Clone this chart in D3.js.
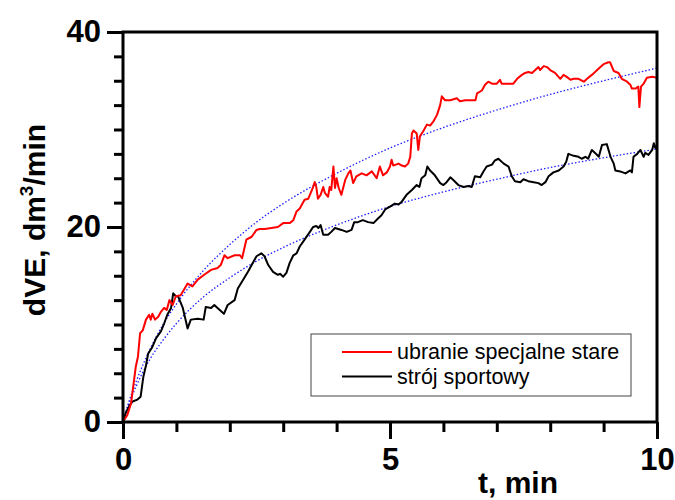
<!DOCTYPE html>
<html>
<head>
<meta charset="utf-8">
<script src="https://cdn.jsdelivr.net/npm/d3@7"></script>
<style>
  html, body { margin: 0; padding: 0; background: #fff; }
  svg { display: block; font-family: "Liberation Sans", Arial, sans-serif; }
</style>
</head>
<body>
<svg id="chart" width="675" height="500"></svg>
<script>
// Time axis (min) and ventilation readings (dm3/min) for each outfit
const oldSuitT = [0,0.02,0.08,0.15,0.2,0.24,0.28,0.32,0.37,0.43,0.49,0.52,0.55,0.6,0.66,0.71,0.77,0.82,0.87,0.93,0.99,1.08,1.21,1.3,1.4,1.52,1.65,1.77,1.83,1.9,1.96,2.09,2.19,2.23,2.31,2.41,2.5,2.56,2.65,2.78,2.9,3.0,3.12,3.19,3.25,3.31,3.4,3.47,3.5,3.56,3.59,3.62,3.65,3.7,3.75,3.78,3.84,3.87,3.9,3.94,3.97,4.0,4.04,4.09,4.16,4.22,4.26,4.31,4.37,4.47,4.56,4.66,4.75,4.81,4.87,4.94,5.0,5.03,5.06,5.16,5.22,5.28,5.34,5.38,5.41,5.44,5.5,5.53,5.56,5.62,5.69,5.75,5.81,5.88,5.94,5.97,6.03,6.13,6.25,6.31,6.41,6.53,6.6,6.63,6.72,6.78,6.84,6.91,7.0,7.06,7.09,7.22,7.31,7.38,7.47,7.53,7.59,7.66,7.72,7.78,7.81,7.88,7.94,8.0,8.09,8.19,8.25,8.31,8.38,8.44,8.53,8.63,8.69,8.78,8.88,8.94,9.0,9.09,9.12,9.19,9.28,9.34,9.44,9.5,9.53,9.6,9.65,9.67,9.7,9.75,9.81,9.91,10.0];
const oldSuitV = [0,0.2,0.7,1.9,4.0,5.7,6.7,9.1,9.4,10.5,11.0,10.5,11.1,10.5,10.8,11.3,11.7,11.5,12.5,12.0,12.9,13.0,14.2,13.9,14.6,15.1,15.6,15.8,16.1,17.1,16.8,17.1,17.1,16.8,18.7,19.0,19.7,19.8,19.8,19.9,20.0,20.4,20.4,20.7,21.6,21.9,22.8,22.9,23.3,24.1,24.6,24.1,22.9,23.3,24.1,23.5,23.1,24.1,23.8,26.2,24.0,25.0,24.0,23.3,24.8,25.5,25.8,24.5,25.2,25.5,25.3,25.7,25.0,26.2,25.3,25.6,26.2,26.9,26.3,26.5,26.3,26.2,26.5,27.2,29.6,29.9,29.6,27.9,29.3,29.8,30.5,30.4,30.8,31.5,32.5,33.4,33.0,33.0,33.2,32.9,33.0,33.0,33.0,33.7,34.0,34.6,34.9,34.7,34.7,35.1,34.7,34.7,34.7,35.2,35.6,35.8,35.9,35.8,36.1,36.4,36.1,36.5,36.4,36.1,35.8,35.2,35.6,35.4,35.1,35.2,35.2,34.9,35.2,35.6,36.1,36.4,36.7,36.9,36.9,36.0,35.8,35.2,34.9,34.6,34.2,34.2,34.4,32.3,34.4,34.7,35.3,35.4,35.3];

const sportT = [0,0.05,0.12,0.18,0.27,0.33,0.38,0.43,0.47,0.55,0.62,0.71,0.77,0.83,0.9,0.94,0.99,1.03,1.12,1.21,1.27,1.4,1.51,1.55,1.65,1.71,1.77,1.89,1.96,2.09,2.15,2.25,2.34,2.44,2.5,2.59,2.65,2.72,2.81,2.9,2.94,3.0,3.06,3.12,3.19,3.25,3.31,3.4,3.5,3.56,3.62,3.66,3.7,3.75,3.84,3.9,3.97,4.09,4.19,4.28,4.33,4.4,4.49,4.59,4.69,4.78,4.84,4.91,5.0,5.09,5.16,5.22,5.31,5.41,5.5,5.55,5.59,5.66,5.7,5.75,5.84,5.94,6.0,6.06,6.13,6.19,6.28,6.38,6.47,6.53,6.59,6.69,6.75,6.81,6.91,6.96,7.03,7.13,7.22,7.28,7.34,7.44,7.5,7.59,7.69,7.78,7.84,7.91,7.97,8.06,8.16,8.25,8.3,8.34,8.44,8.53,8.59,8.66,8.71,8.78,8.84,8.91,8.97,9.06,9.13,9.19,9.22,9.31,9.41,9.5,9.53,9.56,9.63,9.69,9.75,9.78,9.84,9.91,9.94,9.97,10.0];
const sportV = [0,0.9,1.7,2.1,2.3,2.6,4.6,5.8,7.0,7.7,8.6,9.3,10.1,11.0,11.7,13.2,12.9,12.9,11.7,9.6,10.5,10.6,10.5,11.8,11.7,12.0,11.7,11.1,12.0,12.5,13.7,14.6,15.4,16.4,17.0,17.3,17.0,16.1,15.4,15.1,15.2,14.9,15.3,16.3,17.1,17.3,18.0,18.7,19.5,20.0,20.1,19.9,20.2,19.2,19.2,19.5,19.9,19.7,19.5,19.7,20.5,20.5,20.7,20.5,20.4,20.9,21.2,21.8,22.1,22.4,22.3,22.6,23.3,23.8,24.3,24.1,25.0,25.3,26.2,25.8,25.3,24.5,24.3,24.6,25.1,24.8,24.3,24.1,24.2,24.1,25.2,25.1,25.7,26.2,26.4,26.8,27.0,26.5,26.2,25.2,24.7,24.6,24.9,24.7,24.6,24.5,24.3,24.6,25.2,25.6,25.8,26.2,26.7,27.5,27.3,27.2,27.0,27.2,27.0,27.9,27.6,27.2,28.4,28.5,27.2,26.5,25.8,25.7,25.5,25.8,25.6,27.2,27.5,27.9,27.2,27.6,27.4,27.9,28.6,28.1,28.4];

// Trend curves (dotted) sampled along the time axis
const trendT = [0,0.1,0.25,0.5,0.75,1,1.5,2,2.5,3,4,5,6,7,8,9,10];
const oldSuitTrend = [0,1.9,4.2,7.4,10.0,12.1,15.5,18.2,20.5,22.4,25.5,28.1,30.2,32.0,33.6,35.0,36.3];
const sportTrend = [0,1.7,3.7,6.4,8.4,10.1,12.8,14.8,16.5,17.9,20.2,22.1,23.6,24.9,26.1,27.1,28.0];

const seriesNames = ["ubranie specjalne stare", "strój sportowy"];
const xTickLabels = [0, 5, 10];
const yTickLabels = [0, 20, 40];

const svg = d3.select("#chart");
const m = { left: 123, right: 657, top: 32, bottom: 422 };

const x = d3.scaleLinear().domain([0, 10]).range([m.left, m.right]);
const y = d3.scaleLinear().domain([0, 40]).range([m.bottom, m.top]);

const zip = (ts, vs) => ts.map((t, i) => [t, vs[i]]);

// Trend curves
const smooth = d3.line().x(d => x(d[0])).y(d => y(d[1])).curve(d3.curveMonotoneX);
[oldSuitTrend, sportTrend].forEach(vs => {
  svg.append("path")
    .datum(zip(trendT, vs))
    .attr("d", smooth)
    .attr("fill", "none")
    .attr("stroke", "#1f1fff")
    .attr("stroke-width", 1.3)
    .attr("stroke-dasharray", "1.5 2");
});

// Measured series
const raw = d3.line().x(d => x(d[0])).y(d => y(d[1]));
svg.append("path")
  .datum(zip(sportT, sportV))
  .attr("d", raw)
  .attr("fill", "none")
  .attr("stroke", "#000")
  .attr("stroke-width", 2)
  .attr("stroke-linejoin", "round");
svg.append("path")
  .datum(zip(oldSuitT, oldSuitV))
  .attr("d", raw)
  .attr("fill", "none")
  .attr("stroke", "#ff0000")
  .attr("stroke-width", 2)
  .attr("stroke-linejoin", "round");

// Axes: minor ticks via d3 axis, major ticks drawn longer
const axisStroke = 3;
const xMinor = d3.axisBottom(x).tickValues(d3.range(0, 11, 1)).tickSize(10).tickFormat("");
const gx = svg.append("g").attr("transform", `translate(0,${m.bottom})`).call(xMinor);
const xMajor = d3.axisBottom(x).tickValues(xTickLabels).tickSize(17).tickPadding(9).tickFormat(d3.format("d"));
const gx2 = svg.append("g").attr("transform", `translate(0,${m.bottom})`).call(xMajor);

const yMinor = d3.axisLeft(y).tickValues(d3.range(0, 40.1, 2.5)).tickSize(9).tickFormat("");
const gy = svg.append("g").attr("transform", `translate(${m.left},0)`).call(yMinor);
const yMajor = d3.axisLeft(y).tickValues(yTickLabels).tickSize(16).tickPadding(6).tickFormat(d3.format("d"));
const gy2 = svg.append("g").attr("transform", `translate(${m.left},0)`).call(yMajor);

[gx, gx2, gy, gy2].forEach(g => {
  g.select(".domain").remove();
  g.selectAll(".tick line").attr("stroke", "#000").attr("stroke-width", axisStroke);
  g.selectAll(".tick text")
    .attr("fill", "#000")
    .attr("font-family", "'Liberation Sans', Arial, sans-serif")
    .attr("font-weight", "bold")
    .attr("font-size", 31);
});
gx2.selectAll(".tick text").attr("dy", "0.71em");

// Frame around the plot
svg.append("rect")
  .attr("x", m.left).attr("y", m.top)
  .attr("width", m.right - m.left).attr("height", m.bottom - m.top)
  .attr("fill", "none").attr("stroke", "#000").attr("stroke-width", axisStroke);

// Axis titles
svg.append("text")
  .attr("x", 518).attr("y", 493)
  .attr("text-anchor", "middle")
  .attr("font-weight", "bold").attr("font-size", 30)
  .text("t, min");

const yt = svg.append("text")
  .attr("transform", "translate(45,220) rotate(-90)")
  .attr("text-anchor", "middle")
  .attr("font-weight", "bold").attr("font-size", 30);
yt.append("tspan").text("dVE, dm");
yt.append("tspan").attr("font-size", 19).attr("dy", -12).text("3");
yt.append("tspan").attr("dy", 12).text("/min");

// Legend
const lg = svg.append("g");
lg.append("rect")
  .attr("x", 311).attr("y", 334).attr("width", 320).attr("height", 62)
  .attr("fill", "#fff").attr("stroke", "#444").attr("stroke-width", 1);
const legendColors = ["#ff0000", "#000"];
seriesNames.forEach((name, i) => {
  const yy = 352 + i * 24.5;
  lg.append("line")
    .attr("x1", 342).attr("x2", 392).attr("y1", yy).attr("y2", yy)
    .attr("stroke", legendColors[i]).attr("stroke-width", 2);
  lg.append("text")
    .attr("x", 397).attr("y", yy + 7)
    .attr("font-size", 21.5)
    .attr("fill", "#000")
    .text(name);
});
</script>
</body>
</html>
